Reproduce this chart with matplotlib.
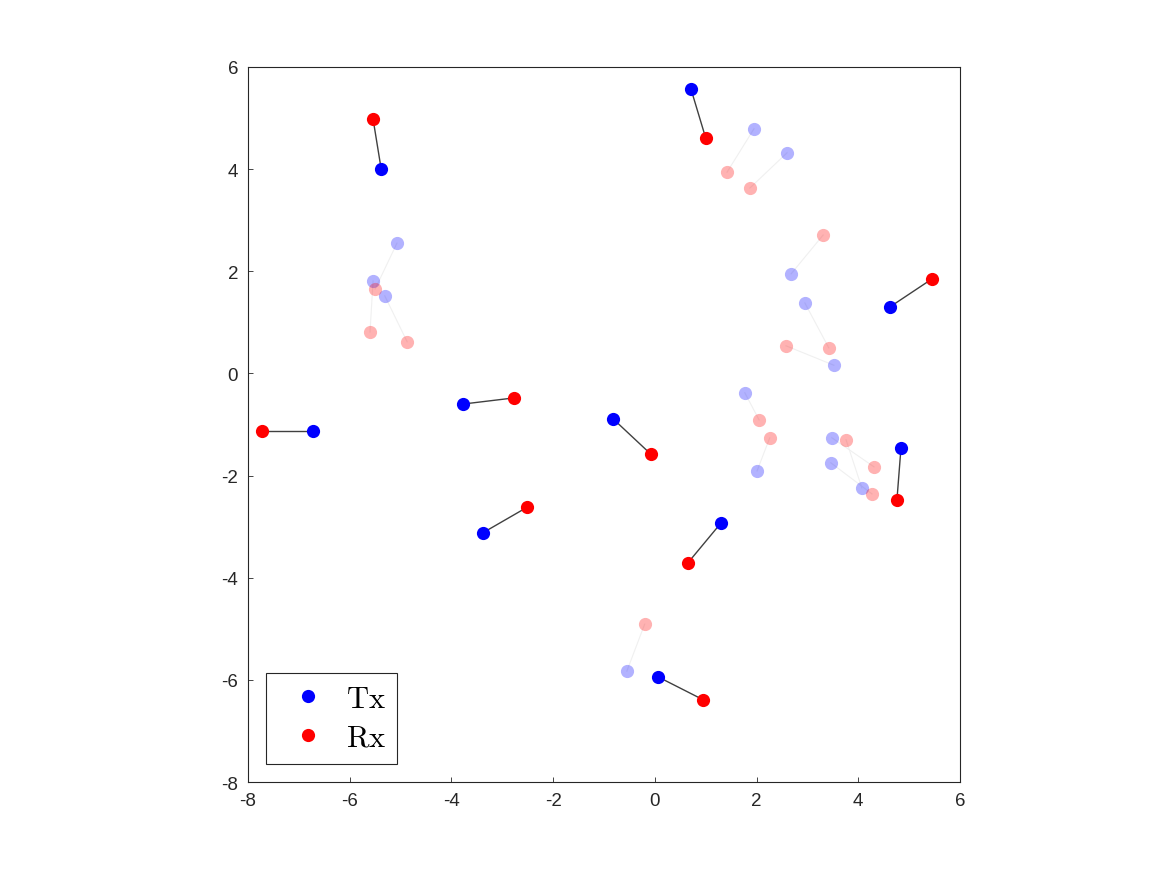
import matplotlib.pyplot as plt

plt.rcParams['font.family'] = ['Liberation Sans', 'DejaVu Sans']
plt.rcParams['mathtext.fontset'] = 'cm'
plt.rcParams['axes.unicode_minus'] = False

# active Tx/Rx pairs
tx_x = [-5.38, 0.71, 4.62, -6.72, -3.77, -0.82, -3.38, 1.30, 4.84, 0.06]
tx_y = [4.00, 5.57, 1.30, -1.13, -0.60, -0.89, -3.12, -2.93, -1.46, -5.94]
rx_x = [-5.54, 1.00, 5.45, -7.72, -2.77, -0.08, -2.51, 0.65, 4.76, 0.95]
rx_y = [4.98, 4.61, 1.85, -1.13, -0.48, -1.58, -2.62, -3.71, -2.48, -6.39]

# inactive (faded) pairs
tx2_x = [-5.07, -5.54, -5.31, 1.95, 2.60, 2.68, 2.95, 3.52, 1.77, 2.01, 3.48, 3.46, 4.07, -0.55]
tx2_y = [2.55, 1.81, 1.52, 4.79, 4.32, 1.95, 1.38, 0.16, -0.38, -1.91, -1.26, -1.75, -2.24, -5.83]
rx2_x = [-5.50, -5.60, -4.87, 1.42, 1.87, 3.31, 3.42, 2.58, 2.05, 2.26, 4.31, 4.27, 3.76, -0.20]
rx2_y = [1.65, 0.81, 0.62, 3.94, 3.63, 2.71, 0.50, 0.54, -0.91, -1.26, -1.83, -2.36, -1.30, -4.91]

fig = plt.figure(figsize=(11.69, 8.78), dpi=100)
ax = fig.add_axes([0.2121, 0.1082, 0.6091, 0.8144])

for i in range(len(tx2_x)):
    ax.plot([tx2_x[i], rx2_x[i]], [tx2_y[i], rx2_y[i]], color='0.94', lw=0.8, zorder=1)
ax.plot(tx2_x, tx2_y, 'o', color='blue', ms=9.5, alpha=0.3, mec='none', zorder=2)
ax.plot(rx2_x, rx2_y, 'o', color='red', ms=9.5, alpha=0.3, mec='none', zorder=2)

for i in range(len(tx_x)):
    ax.plot([tx_x[i], rx_x[i]], [tx_y[i], rx_y[i]], color='0.25', lw=1.0, zorder=3)
ax.plot(tx_x, tx_y, 'o', color='blue', ms=9.5, mec='none', zorder=4, label=r'$\mathrm{Tx}$')
ax.plot(rx_x, rx_y, 'o', color='red', ms=9.5, mec='none', zorder=4, label=r'$\mathrm{Rx}$')

ax.set_xlim(-8, 6)
ax.set_ylim(-8, 6)
ax.set_xticks(range(-8, 7, 2))
ax.set_yticks(range(-8, 7, 2))
ax.tick_params(direction='in', length=3.5, width=0.6, labelsize=13.5, colors='0.15', pad=7)
for s in ax.spines.values():
    s.set_color('0.15')
    s.set_linewidth(0.8)

leg = ax.legend(loc='lower left', fontsize=22, fancybox=False, framealpha=1,
                edgecolor='0.15', borderaxespad=0.6, handletextpad=0.25,
                handlelength=2.0, labelspacing=0.3, borderpad=0.35)
leg.get_frame().set_linewidth(0.8)

fig.savefig('out.png', dpi=100)
